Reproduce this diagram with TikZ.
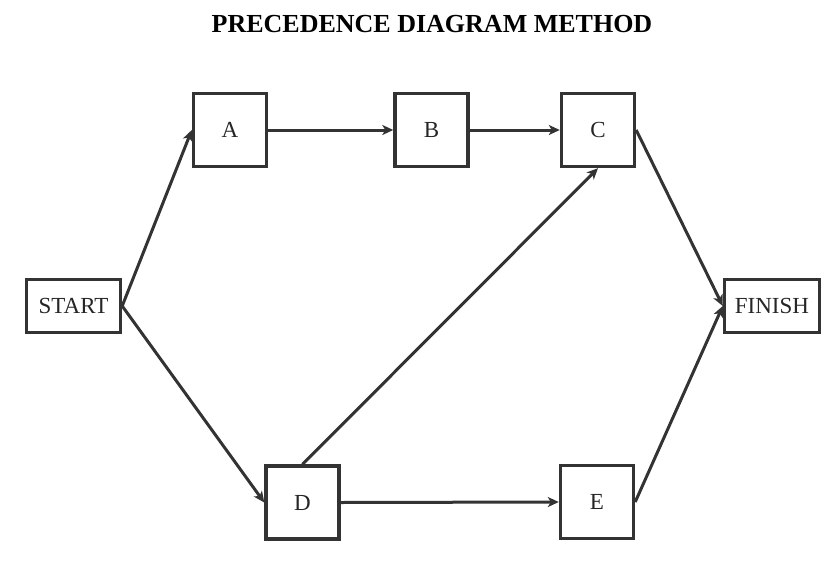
\documentclass[tikz,border=0pt]{standalone}
\usepackage{fontspec}
\setmainfont{Liberation Serif}
\usetikzlibrary{arrows.meta}
\begin{document}
\begin{tikzpicture}[x=1pt,y=-1pt,
  box/.style={draw=black!80,line width=3.4pt,fill=white,inner sep=0pt,font=\fontsize{23}{26}\selectfont,text=black!85},
  sq/.style={box,minimum width=73pt,minimum height=73pt},
  rect/.style={box,minimum height=53pt},
  conn/.style={draw=black!80,line width=3pt,-{Stealth[length=11pt,width=10pt,inset=3pt]}}]
\useasboundingbox (0,0) rectangle (839,563);
\node[font=\fontsize{26}{29}\selectfont\bfseries] (title) at (432,24) {PRECEDENCE DIAGRAM METHOD};
\node[rect,minimum width=94pt] (start) at (73.5,306) {START};
\node[rect,minimum width=95pt] (finish) at (772,306) {FINISH};
\node[sq] (a) at (230,130) {A};
\node[sq] (b) at (431.5,130) {B};
\node[sq] (c) at (598,130) {C};
\node[sq] (d) at (302.5,502.5) {D};
\node[sq] (e) at (597,502) {E};
\draw[conn] (start.east) -- (a.west);
\draw[conn] (start.east) -- (d.west);
\draw[conn] (a.east) -- (b.west);
\draw[conn] (b.east) -- (c.west);
\draw[conn] (d.north) -- (c.south);
\draw[conn] (d.east) -- (e.west);
\draw[conn] (c.east) -- (finish.west);
\draw[conn] (e.east) -- (finish.west);
\end{tikzpicture}
\end{document}
